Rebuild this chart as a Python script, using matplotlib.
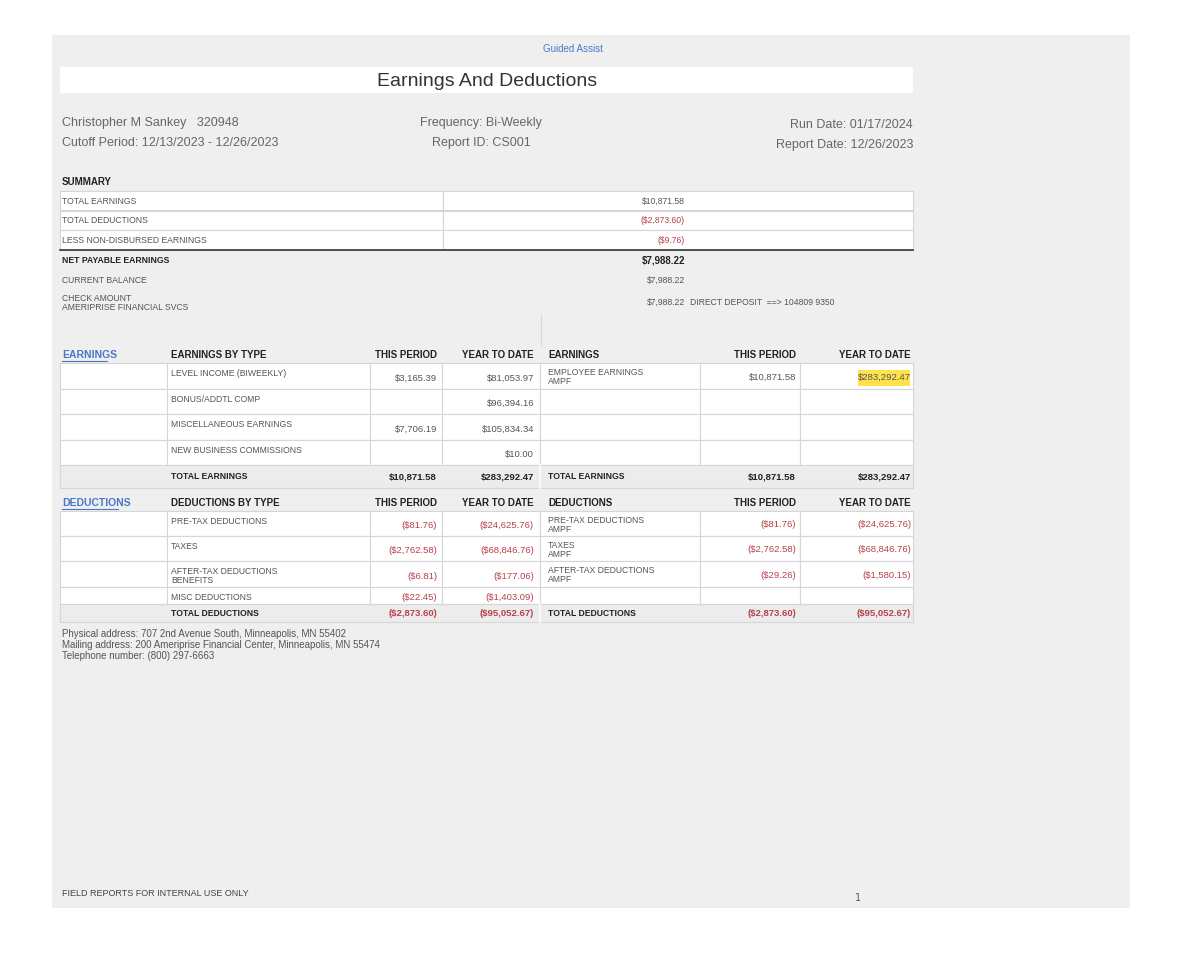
import matplotlib
matplotlib.use('Agg')
import matplotlib.pyplot as plt
from matplotlib.patches import Rectangle

plt.rcParams['font.family'] = ['Liberation Sans', 'DejaVu Sans']

# data
header_left = ["Christopher M Sankey   320948", "Cutoff Period: 12/13/2023 - 12/26/2023"]
header_mid = ["Frequency: Bi-Weekly", "Report ID: CS001"]
header_right = ["Run Date: 01/17/2024", "Report Date: 12/26/2023"]

summary_labels = ["TOTAL EARNINGS", "TOTAL DEDUCTIONS", "LESS NON-DISBURSED EARNINGS"]
summary_values = ["$10,871.58", "($2,873.60)", "($9.76)"]

earn_types = ["LEVEL INCOME (BIWEEKLY)", "BONUS/ADDTL COMP", "MISCELLANEOUS EARNINGS", "NEW BUSINESS COMMISSIONS"]
earn_period = ["$3,165.39", "", "$7,706.19", ""]
earn_ytd = ["$81,053.97", "$96,394.16", "$105,834.34", "$10.00"]
earn_right = [("EMPLOYEE EARNINGS\nAMPF", "$10,871.58", "$283,292.47"), ("", "", ""), ("", "", ""), ("", "", "")]
earn_total = ("$10,871.58", "$283,292.47")

ded_types = ["PRE-TAX DEDUCTIONS", "TAXES", "AFTER-TAX DEDUCTIONS\nBENEFITS", "MISC DEDUCTIONS"]
ded_period = ["($81.76)", "($2,762.58)", "($6.81)", "($22.45)"]
ded_ytd = ["($24,625.76)", "($68,846.76)", "($177.06)", "($1,403.09)"]
ded_right = [("PRE-TAX DEDUCTIONS\nAMPF", "($81.76)", "($24,625.76)"),
             ("TAXES\nAMPF", "($2,762.58)", "($68,846.76)"),
             ("AFTER-TAX DEDUCTIONS\nAMPF", "($29.26)", "($1,580.15)"),
             ("", "", "")]
ded_total = ("($2,873.60)", "($95,052.67)")

address = ["Physical address: 707 2nd Avenue South, Minneapolis, MN 55402",
           "Mailing address: 200 Ameriprise Financial Center, Minneapolis, MN 55474",
           "Telephone number: (800) 297-6663"]

GRAY = '#555555'
DARK = '#222222'
RED = '#b8404a'
BLUE = '#4a78c8'
LINE = '#d6d6d6'

fig = plt.figure(figsize=(11.8, 9.55), dpi=100)
ax = fig.add_axes([0, 0, 1, 1])
ax.set_xlim(0, 1180)
ax.set_ylim(955, 0)
ax.axis('off')

def box(x0, y0, x1, y1, fc='white', ec=LINE, lw=0.8):
    ax.add_patch(Rectangle((x0, y0), x1 - x0, y1 - y0, facecolor=fc, edgecolor=ec, lw=lw))

def t(x, y, s, size=6.2, color=GRAY, ha='left', weight='normal', va='center'):
    ax.text(x, y, s, fontsize=size, color=color, ha=ha, va=va, fontweight=weight, linespacing=1.0)

box(52, 35, 1130, 908, fc='#efefef', ec='none')
t(573, 49, "Guided Assist", size=7, color=BLUE, ha='center')
box(60, 67, 913, 93, ec='none')
t(487, 81, "Earnings And Deductions", size=14, color='#333333', ha='center')

for i in range(2):
    y = 123 + i * 20
    t(62, y, header_left[i], size=9, color='#666666')
    t(481, y, header_mid[i], size=9, color='#666666', ha='center')
    t(913, y + 2, header_right[i], size=9, color='#666666', ha='right')

# summary
t(62, 182, "SUMMARY", size=7, color=DARK, weight='bold')
for i, (lab, val) in enumerate(zip(summary_labels, summary_values)):
    y0 = 191 + i * 19.5
    box(60, y0, 443, y0 + 19.5)
    box(443, y0, 913, y0 + 19.5)
    t(62, y0 + 10, lab)
    t(685, y0 + 10, val, color=GRAY if i == 0 else RED, ha='right')
ax.plot([60, 913], [250, 250], color='#333333', lw=1.2)
t(62, 260, "NET PAYABLE EARNINGS", size=6.2, color=DARK, weight='bold')
t(685, 260, "$7,988.22", size=7, color=DARK, ha='right', weight='bold')
t(62, 280, "CURRENT BALANCE")
t(685, 280, "$7,988.22", ha='right')
t(62, 303, "CHECK AMOUNT\nAMERIPRISE FINANCIAL SVCS")
t(685, 302, "$7,988.22", ha='right')
t(690, 302, "DIRECT DEPOSIT  ==> 104809 9350")
ax.plot([541, 541], [315, 345], color=LINE, lw=0.8)

LX = [60, 167, 370, 442, 540]
RX = [540, 700, 800, 913]

def section(ytop, link, ltitle, rtitle, red):
    t(62, ytop, link, size=7.5, color=BLUE, weight='bold')
    ax.plot([62, 62 + len(link) * 5.6], [ytop + 6, ytop + 6], color=BLUE, lw=0.8)
    t(171, ytop, ltitle, size=7, color=DARK, weight='bold')
    t(437, ytop, "THIS PERIOD", size=7, color=DARK, weight='bold', ha='right')
    t(534, ytop, "YEAR TO DATE", size=7, color=DARK, weight='bold', ha='right')
    t(548, ytop, rtitle, size=7, color=DARK, weight='bold')
    t(796, ytop, "THIS PERIOD", size=7, color=DARK, weight='bold', ha='right')
    t(911, ytop, "YEAR TO DATE", size=7, color=DARK, weight='bold', ha='right')
    return RED if red else GRAY

def rows(y0, heights, types, per, ytd, right, c):
    y = y0
    for i, h in enumerate(heights):
        for a, b in zip(LX[:-1], LX[1:]):
            box(a, y, b, y + h)
        for a, b in zip(RX[:-1], RX[1:]):
            box(a, y, b, y + h)
        t(171, y + 6, types[i], va='top')
        t(437, y + h / 2 + 2, per[i], color=c, ha='right', size=6.8)
        t(534, y + h / 2 + 2, ytd[i], color=c, ha='right', size=6.8)
        t(548, y + 5, right[i][0], va='top')
        t(796, y + h / 2 + 1, right[i][1], color=c, ha='right', size=6.8)
        t(911, y + h / 2 + 1, right[i][2], color=c, ha='right', size=6.8)
        y += h
    return y

def totals(y, h, label, total, c):
    box(60, y, 540, y + h, fc='#ececec', ec=LINE)
    box(540, y, 913, y + h, fc='#ececec', ec=LINE)
    ax.plot([540, 540], [y, y + h], color='white', lw=1.2)
    cc = RED if c == RED else DARK
    t(171, y + h / 2, label, color=DARK, weight='bold')
    t(437, y + h / 2, total[0], color=cc, ha='right', weight='bold', size=6.8)
    t(534, y + h / 2, total[1], color=cc, ha='right', weight='bold', size=6.8)
    t(548, y + h / 2, label, color=DARK, weight='bold')
    t(796, y + h / 2, total[0], color=cc, ha='right', weight='bold', size=6.8)
    t(911, y + h / 2, total[1], color=cc, ha='right', weight='bold', size=6.8)

# earnings
c = section(355, "EARNINGS", "EARNINGS BY TYPE", "EARNINGS", False)
y = rows(363, [26, 25, 26, 25], earn_types, earn_period, earn_ytd, earn_right, c)
ax.add_patch(Rectangle((858, 370), 52, 16, facecolor='#ffe24a', edgecolor='none', zorder=1.5))
totals(y, 23, "TOTAL EARNINGS", earn_total, c)

# deductions
c = section(503, "DEDUCTIONS", "DEDUCTIONS BY TYPE", "DEDUCTIONS", True)
y = rows(511, [25, 25, 26, 17], ded_types, ded_period, ded_ytd, ded_right, c)
totals(y, 18, "TOTAL DEDUCTIONS", ded_total, c)

for i, line in enumerate(address):
    t(62, 634 + i * 11, line, size=7, color='#555555')

t(62, 893, "FIELD REPORTS FOR INTERNAL USE ONLY", size=6.5, color='#444444')
ax.text(858, 898, "1", fontsize=7, color='#555555', ha='center', va='center', family='DejaVu Sans Mono')

fig.savefig('out.png', dpi=100, facecolor='white')
